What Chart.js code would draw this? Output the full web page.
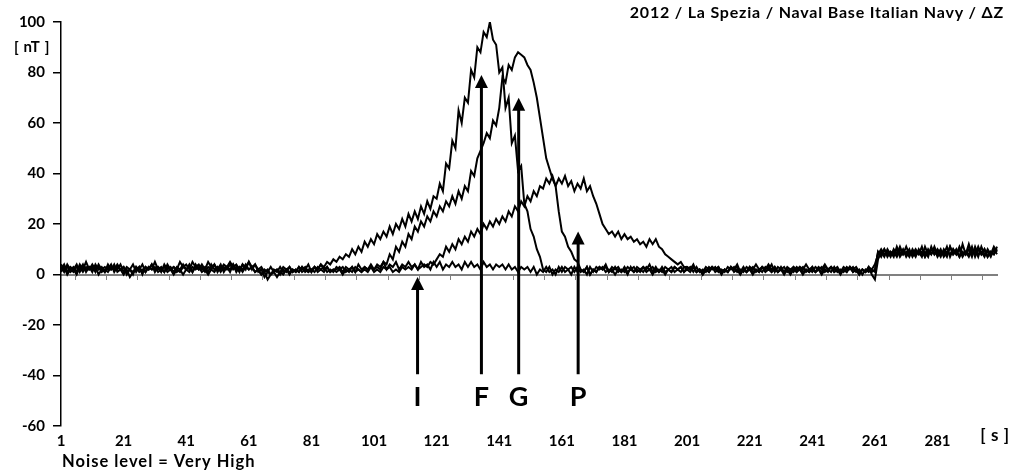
<!DOCTYPE html>
<html>
<head>
<meta charset="utf-8">
<script src="https://cdn.jsdelivr.net/npm/chart.js@4.4.1/dist/chart.umd.min.js"></script>
<style>
  html, body { margin: 0; padding: 0; background: #ffffff; }
  #wrap { width: 1011px; height: 473px; position: relative; }
  canvas { display: block; }
</style>
</head>
<body>
<div id="wrap"><canvas id="chart" width="1011" height="473"></canvas></div>
<script>
// Time axis: one sample per second, 1 .. 300
const seconds = Array.from({ length: 300 }, (_, i) => String(i + 1));
const labelEvery = 20;

// Vertical magnetic anomaly ΔZ [nT] for the four passages
const seriesI = [
  2,4,1,3,2,4,1,3,2,3,1,4,2,3,1,4,2,3,2,4,
  1,3,2,4,1,3,0,3,2,4,2,3,1,4,2,3,1,3,2,4,
  2,3,1,4,2,3,1,3,2,4,1,3,2,3,1,4,2,3,1,3,
  2,3,1,2,0,2,1,3,1,2,0,2,1,3,1,2,1,3,1,2,
  1,3,1,2,1,3,1,2,2,3,1,3,2,3,1,4,2,3,2,4,
  2,4,3,5,2,4,3,5,2,4,3,5,3,4,2,5,3,4,2,5,
  3,5,2,4,3,5,3,4,2,5,3,5,3,4,2,5,3,4,2,4,
  3,4,2,4,2,3,1,3,2,3,1,3,0,2,1,3,1,2,0,3,
  1,3,2,3,1,3,1,2,0,3,1,3,2,3,1,2,1,3,1,2,
  1,3,2,3,1,2,1,3,2,3,1,2,1,3,2,3,1,2,1,3,
  2,3,1,3,1,2,1,3,2,3,1,2,1,3,2,3,1,2,1,3,
  2,3,1,2,1,3,2,4,1,3,2,3,1,2,1,3,2,3,1,2,
  1,3,2,3,1,2,1,3,1,2,1,3,2,3,1,2,0,2,1,2,
  1,9,8,10,7,9,8,10,7,9,8,10,7,9,8,11,7,9,8,10,
  7,9,8,11,7,10,8,10,7,9,8,11,7,10,8,10,7,9,8,10
];
const seriesF = [
  3,1,4,2,3,1,4,2,5,2,3,1,4,2,3,2,4,1,3,2,
  3,0,2,1,3,2,4,1,3,2,5,2,3,1,4,2,3,2,5,3,
  4,2,5,3,4,2,3,1,4,2,3,1,3,2,4,2,3,1,4,2,
  5,2,4,1,2,-1,1,0,2,1,3,1,2,0,2,1,3,2,3,1,
  2,3,2,4,3,5,4,6,5,7,6,8,7,10,8,11,9,13,11,14,
  12,16,14,17,15,19,16,20,18,22,19,24,21,25,22,27,24,29,26,31,
  30,36,33,44,42,53,50,65,60,70,68,81,78,90,88,96,94,100,93,91,
  80,82,66,70,52,55,41,43,28,25,18,15,10,7,2,1,3,0,2,1,
  3,1,2,0,3,1,2,1,3,0,2,1,3,2,3,1,2,0,2,1,
  3,1,2,1,3,2,3,1,2,0,2,1,3,1,2,1,3,2,3,1,
  2,1,3,1,2,0,2,1,3,2,3,1,2,1,3,1,2,0,2,1,
  3,2,4,2,3,1,2,1,3,1,2,0,2,1,3,2,3,1,2,1,
  3,1,2,0,2,1,3,2,3,1,2,1,3,1,2,0,2,1,3,2,
  4,8,10,8,9,7,10,8,11,8,9,7,10,8,9,7,11,8,10,8,
  9,7,10,8,11,8,9,7,12,8,10,7,11,8,9,7,10,8,11,9
];
const seriesG = [
  1,3,0,2,1,3,2,4,1,3,2,3,0,2,1,3,2,4,1,2,
  0,2,-1,1,2,3,1,3,2,4,1,3,2,3,1,2,0,2,1,3,
  2,4,1,3,2,4,2,5,3,4,2,4,1,3,2,4,1,3,2,4,
  2,3,1,2,0,1,-2,0,1,2,1,3,2,3,1,2,1,3,2,4,
  1,3,2,4,2,3,1,2,1,2,0,2,1,3,1,2,1,3,2,3,
  2,3,2,5,4,8,6,11,9,13,11,16,14,19,17,21,19,23,21,25,
  23,27,25,29,27,31,28,33,30,35,33,41,39,46,49,52,56,54,61,59,
  66,78,76,83,81,86,88,87,86,83,81,76,70,62,54,46,42,38,35,25,
  17,15,11,9,6,5,2,1,3,0,2,1,3,2,4,1,3,2,3,1,
  2,0,3,1,2,1,3,2,4,1,3,1,2,0,2,1,3,2,3,1,
  3,2,4,1,2,0,2,1,3,2,3,1,2,1,3,2,4,1,3,1,
  2,0,2,1,3,2,3,1,2,1,3,1,2,0,2,1,3,2,4,2,
  3,1,2,1,3,2,3,1,2,0,2,1,3,2,3,1,2,1,3,0,
  -2,6,9,7,10,8,9,7,10,8,11,8,9,7,10,8,9,7,11,8,
  10,8,9,7,11,8,10,7,9,8,12,8,10,7,11,8,9,7,10,8
];
const seriesP = [
  4,2,3,1,2,0,3,1,3,2,4,2,3,1,2,1,3,2,4,2,
  3,1,2,0,3,1,2,1,3,2,3,1,2,1,3,2,3,1,2,0,
  2,1,3,2,3,1,2,0,2,1,3,2,4,3,5,3,4,2,4,3,
  5,3,4,2,3,1,2,0,1,-1,1,0,2,1,2,1,3,1,2,1,
  2,1,3,2,3,1,2,1,3,2,3,1,2,1,3,2,1,2,1,3,
  1,2,1,3,2,3,1,2,1,3,2,3,2,4,2,3,4,3,5,4,
  6,8,7,11,9,12,10,14,12,15,13,17,15,18,16,20,18,21,19,22,
  20,23,21,25,23,27,25,29,27,31,29,33,31,35,34,38,36,39,35,38,
  36,39,35,37,33,36,34,38,33,35,31,28,24,20,18,16,17,15,17,14,
  16,14,15,13,14,12,13,11,14,12,14,11,10,8,7,6,5,4,5,3,
  3,2,3,1,2,1,3,2,3,1,2,0,2,1,3,2,3,1,2,1,
  3,1,2,1,3,2,4,2,3,1,2,1,3,2,3,1,2,0,2,1,
  2,1,3,2,4,2,3,1,2,1,3,2,3,1,2,0,2,1,2,1,
  2,9,7,10,8,9,7,11,8,10,7,9,8,10,8,9,7,10,8,11,
  8,10,7,9,8,10,8,11,8,9,7,10,8,11,8,10,7,9,8,11
];

// Y axis range and step [nT]
const yMin = -60, yMax = 100, yStep = 20;

// Event markers: name, time [s], arrow tip and foot [nT]
const markerNames = ['I', 'F', 'G', 'P'];
const markerTime = [114.9, 135.3, 147.2, 166.2];
const markerTip = [-1, 79, 70, 17];
const markerFoot = -39.5;
const markerLabelLevel = -48.5;

// Axis ticks along the zero line, every 10 s
const zeroTicks = Array.from({ length: 30 }, (_, i) => 5.5 + i * 10);

const FONT = "Lato, 'Open Sans', 'DejaVu Sans', sans-serif";

function spacedText(ctx, text, x, y, spacing) {
  ctx.letterSpacing = spacing + 'px';
  ctx.fillText(text, x, y);
  ctx.letterSpacing = '0px';
}

const markers = {
  id: 'markers',
  afterDatasetsDraw(chart) {
    const ctx = chart.ctx;
    const xs = chart.scales.x, ys = chart.scales.y;
    ctx.save();
    ctx.fillStyle = '#000';
    ctx.strokeStyle = '#000';
    markerTime.forEach((t, i) => {
      const px = xs.getPixelForValue(t - 1);
      const tip = ys.getPixelForValue(markerTip[i]);
      const foot = ys.getPixelForValue(markerFoot);
      const headH = 13, headW = 6.5;
      ctx.lineWidth = 3;
      ctx.beginPath();
      ctx.moveTo(px, foot);
      ctx.lineTo(px, tip + headH - 1);
      ctx.stroke();
      ctx.beginPath();
      ctx.moveTo(px, tip);
      ctx.lineTo(px - headW, tip + headH);
      ctx.lineTo(px + headW, tip + headH);
      ctx.closePath();
      ctx.fill();
      ctx.font = "bold 27px " + FONT;
      ctx.textAlign = 'center';
      ctx.textBaseline = 'middle';
      ctx.fillText(markerNames[i], px, ys.getPixelForValue(markerLabelLevel));
    });
    ctx.restore();
  },
  afterDraw(chart) {
    const ctx = chart.ctx;
    const area = chart.chartArea;
    ctx.save();
    ctx.fillStyle = '#000';
    ctx.textBaseline = 'middle';
    ctx.font = "bold 16px " + FONT;
    ctx.textAlign = 'right';
    spacedText(ctx, '2012 / La Spezia / Naval Base Italian Navy / ΔZ', 1004, 13, 0.8);
    ctx.font = "bold 15px " + FONT;
    ctx.textAlign = 'center';
    spacedText(ctx, '[ nT ]', 32, 47, 0.6);
    ctx.font = "bold 17px " + FONT;
    spacedText(ctx, '[ s ]', 995, area.bottom + 10, 0.6);
    ctx.textAlign = 'left';
    ctx.font = "bold 16.5px " + FONT;
    spacedText(ctx, 'Noise level = Very High', 62, 462, 1);
    ctx.restore();
  }
};

const lineStyle = {
  borderColor: '#000',
  borderWidth: 2,
  pointRadius: 0,
  tension: 0,
  fill: false
};

new Chart(document.getElementById('chart'), {
  type: 'line',
  data: {
    labels: seconds,
    datasets: [
      Object.assign({ label: 'I', data: seriesI }, lineStyle),
      Object.assign({ label: 'F', data: seriesF }, lineStyle),
      Object.assign({ label: 'G', data: seriesG }, lineStyle),
      Object.assign({ label: 'P', data: seriesP }, lineStyle)
    ]
  },
  options: {
    responsive: false,
    animation: false,
    devicePixelRatio: 1,
    layout: { padding: { left: 0, right: 14, top: 22, bottom: 0 } },
    plugins: {
      legend: { display: false },
      tooltip: { enabled: false }
    },
    scales: {
      x: {
        type: 'category',
        position: 'bottom',
        offset: false,
        grid: { display: false, drawTicks: false, tickLength: 0 },
        border: { display: false },
        ticks: {
          autoSkip: false,
          maxRotation: 0,
          padding: 6,
          color: '#000',
          font: { family: FONT, size: 15, weight: 'bold' },
          callback: (v, i) => (i % labelEvery === 0 ? seconds[i] : null)
        },
        afterFit: (s) => { s.height = 47; }
      },
      zero: {
        type: 'linear',
        axis: 'x',
        min: 1,
        max: 300,
        position: { y: 0 },
        ticks: { display: false },
        afterBuildTicks: (s) => { s.ticks = zeroTicks.map(v => ({ value: v })); },
        grid: { drawOnChartArea: false, drawTicks: true, tickLength: 4, color: '#808080', lineWidth: 1 },
        border: { color: '#808080', width: 2 }
      },
      y: {
        min: yMin,
        max: yMax,
        ticks: {
          stepSize: yStep,
          padding: 8,
          color: '#000',
          font: { family: FONT, size: 15, weight: 'bold' }
        },
        grid: { drawOnChartArea: false, drawTicks: true, tickLength: 8, color: '#000', lineWidth: 1.5 },
        border: { color: '#000', width: 1.5 },
        afterFit: (s) => { s.width = 61; }
      }
    }
  },
  plugins: [markers]
});
</script>
</body>
</html>
